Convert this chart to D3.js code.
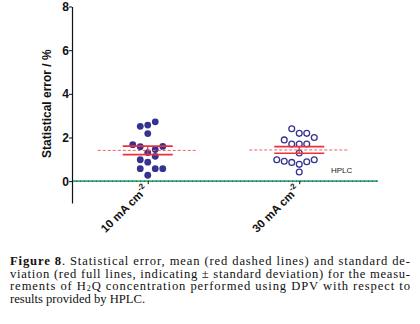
<!DOCTYPE html>
<html><head><meta charset="utf-8">
<script src="https://cdn.jsdelivr.net/npm/d3@7/dist/d3.min.js"></script>
<style>body{margin:0;background:#fff}svg{display:block}</style>
</head><body>
<svg id="c" width="420" height="324"></svg>
<script>
const categories = ["10 mA cm", "30 mA cm"];
const catSup = ["-2", "-2"];
// statistical error (%) of each measurement
const values10 = [2.72, 2.57, 2.51, 2.18, 1.67, 1.59, 1.58, 1.45, 1.31, 1.14, 0.98, 0.87, 0.57, 0.57, 0.57, 0.27];
const slots10  = [1, 0, -1, 0, -2, 2, -1, 1, 0, 1, -1, 0, -1, 1, 2, 0];
const values30 = [2.40, 2.19, 2.19, 2.00, 1.89, 1.70, 1.70, 1.70, 1.29, 0.98, 0.91, 0.86, 0.77, 0.89, 0.98, 0.42];
const slots30  = [-1, 0, 1, 2, -2, -1, 0, 1, 0, -3, -2, -1, 0, 1, 2, 0];
const yTicks = [0, 2, 4, 6, 8];
const refLabel = "HPLC";

const svg = d3.select("#c");
const sans = "'Liberation Sans', Arial, sans-serif";
const x = d3.scalePoint().domain(categories).range([72, 375]).padding(0.5);
const y = d3.scaleLinear().domain([-1, 8]).range([203, 6.5]);
const jit = d3.scaleLinear().domain([-1, 1]).range([-7.5, 7.5]);
const blue = "#35338f", red = "#e8323c";

// reference line at 0 (HPLC)
const gy0 = y(0);
svg.append("line").attr("x1", 72).attr("x2", x.range()[1] + 3).attr("y1", gy0).attr("y2", gy0)
  .attr("stroke", "#35a87a").attr("stroke-width", 1.6);
svg.append("line").attr("x1", 72).attr("x2", x.range()[1] + 3).attr("y1", gy0).attr("y2", gy0)
  .attr("stroke", "#24483a").attr("stroke-width", 0.9).attr("stroke-dasharray", "1,3");
svg.append("text").attr("x", x.range()[1] - 44).attr("y", y(0) - 8).text(refLabel)
  .attr("font-family", sans).attr("font-size", 8).attr("fill", "#222");

// y axis
const ya = svg.append("g").attr("transform", "translate(72,0)")
  .call(d3.axisLeft(y).tickValues(yTicks).tickSize(3).tickSizeOuter(0).tickFormat(d3.format("d")));
ya.select(".domain").attr("stroke", "#111").attr("stroke-width", 1.2);
ya.selectAll(".tick line").attr("stroke", "#111");
ya.selectAll(".tick text").attr("font-family", sans)
  .attr("font-weight", "bold").attr("font-size", 12).attr("fill", "#111").attr("x", -3);
svg.append("text").attr("transform", `translate(51,${y(3.55)}) rotate(-90)`).attr("text-anchor", "middle")
  .attr("font-family", sans).attr("font-weight", "bold").attr("font-size", 12)
  .attr("fill", "#111").text("Statistical error / %");

// x ticks
const xa = svg.append("g").attr("transform", `translate(0,${y(0)})`)
  .call(d3.axisBottom(x).tickSize(3).tickFormat(""));
xa.select(".domain").remove();
xa.selectAll(".tick line").attr("stroke", "#111");
categories.forEach((c, i) => {
  const t = svg.append("text").attr("transform", `translate(${x(c) + 1},${y(0) + 9}) rotate(-45)`)
    .attr("text-anchor", "end").attr("font-family", sans)
    .attr("font-weight", "bold").attr("font-size", 11.5).attr("fill", "#111");
  t.append("tspan").text(c);
  t.append("tspan").attr("dy", -5).attr("font-size", 8).text(catSup[i]);
});

// groups
const groups = [
  {cat: categories[0], vals: values10, slots: slots10, filled: true},
  {cat: categories[1], vals: values30, slots: slots30, filled: false}
];
groups.forEach(g => {
  const cx = x(g.cat);
  const m = d3.mean(g.vals);
  const sem = d3.deviation(g.vals) / Math.sqrt(g.vals.length);
  // points
  svg.selectAll(null).data(g.vals.map((v, i) => ({v, s: g.slots[i]}))).join("circle")
    .attr("cx", d => cx + jit(d.s)).attr("cy", d => y(d.v))
    .attr("r", g.filled ? 3.4 : 2.9)
    .attr("fill", g.filled ? blue : "none")
    .attr("stroke", blue).attr("stroke-width", g.filled ? 0 : 1.3);
  // mean dashed
  svg.append("line").attr("x1", cx - 50).attr("x2", cx + 50).attr("y1", y(m)).attr("y2", y(m))
    .attr("stroke", "#f06064").attr("stroke-width", 1).attr("stroke-dasharray", "3,2");
  // +- lines
  [m + sem, m - sem].forEach(v => {
    svg.append("line").attr("x1", cx - 25).attr("x2", cx + 25).attr("y1", y(v)).attr("y2", y(v))
      .attr("stroke", red).attr("stroke-width", 1.6);
  });
  svg.append("line").attr("x1", cx).attr("x2", cx).attr("y1", y(m + sem)).attr("y2", y(m - sem))
    .attr("stroke", red).attr("stroke-width", 1.3);
});

// caption
const cap = svg.append("g").attr("font-family", "'Liberation Serif', 'Times New Roman', serif")
  .attr("font-size", 12.6).attr("fill", "#111");
const l1 = cap.append("text").attr("x", 10).attr("y", 265).attr("textLength", 400).attr("lengthAdjust", "spacing");
l1.append("tspan").attr("font-weight", "bold").text("Figure 8");
l1.append("tspan").text(". Statistical error, mean (red dashed lines) and standard de-");
cap.append("text").attr("x", 10).attr("y", 277.5).attr("textLength", 400).attr("lengthAdjust", "spacing")
  .text("viation (red full lines, indicating \u00b1 standard deviation) for the measu-");
const l3 = cap.append("text").attr("x", 10).attr("y", 290).attr("textLength", 400).attr("lengthAdjust", "spacing");
l3.append("tspan").text("rements of H");
l3.append("tspan").attr("font-size", 8).attr("dy", 1).text("2");
l3.append("tspan").attr("dy", -1).text("Q concentration performed using DPV with respect to");
cap.append("text").attr("x", 10).attr("y", 303).text("results provided by HPLC.");
</script>
</body></html>
